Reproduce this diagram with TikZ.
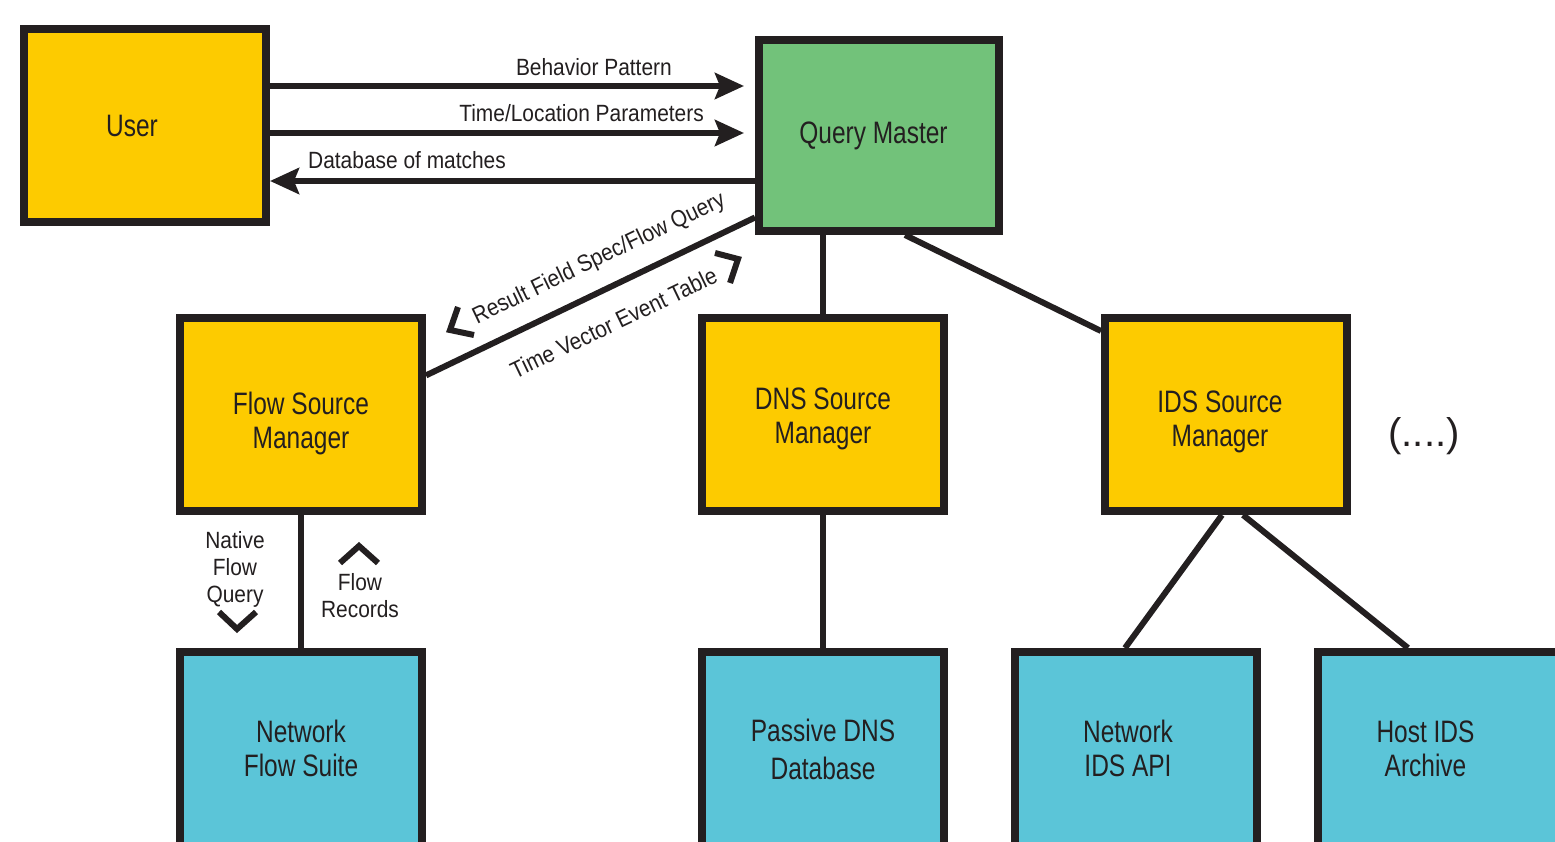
\documentclass[tikz,border=0pt]{standalone}
\usepackage{fontspec}
\setmainfont{Liberation Sans}[FakeStretch=0.79]
\newfontfamily\lblfamily{Liberation Sans}[FakeStretch=0.89]
\newfontfamily\plainfamily{Liberation Sans}
\usetikzlibrary{arrows.meta,calc}
\definecolor{ylw}{HTML}{FDCB00}
\definecolor{grn}{HTML}{72C27A}
\definecolor{cyn}{HTML}{5BC5D8}
\definecolor{ink}{HTML}{231F20}
\newcommand\boxfont{\fontsize{31}{34}\selectfont}
\newcommand\lblfont{\lblfamily\fontsize{23.5}{27}\selectfont}
\newcommand\tall[1]{\rule{0pt}{#1}}
\newcommand\deep[1]{\rule[-#1]{0pt}{#1}}
\begin{document}
\begin{tikzpicture}[x=1pt,y=-1pt,
  box/.style={draw=ink,line width=8pt,minimum width=242pt,minimum height=193pt,
    align=center,font=\boxfont,text=ink,inner sep=0pt},
  conn/.style={draw=ink,line width=6pt},
  arr/.style={conn,-{Stealth[length=29pt,width=26pt,inset=5pt]}},
  lbl/.style={font=\lblfont,text=ink,inner sep=0pt},
  chev/.style={draw=ink,line width=6pt,miter limit=10}]
\useasboundingbox (0,0) rectangle (1555,842);
\clip (0,0) rectangle (1555,842);
\fill[white] (0,0) rectangle (1555,842);
% boxes
\node[box,fill=ylw] (user) at (145,126) {User\hspace*{26pt}};
\node[box,fill=grn,minimum width=240pt,minimum height=191pt] (qm) at (879,135.5) {Query Master\hspace*{11pt}};
\node[box,fill=ylw] (fsm) at (301,414.5) {\tall{40pt}Flow Source\\Manager};
\node[box,fill=ylw] (dns) at (823,414.5) {\tall{30pt}DNS Source\\Manager};
\node[box,fill=ylw] (ids) at (1226,414.5) {\tall{36pt}IDS Source\hspace*{12pt}\\Manager\hspace*{12pt}};
\node[box,fill=cyn,minimum height=200pt] (nfs) at (301,752) {Network\\Flow Suite\deep{8pt}};
\node[box,fill=cyn,minimum height=200pt,font=\fontsize{31}{38}\selectfont] (pdns) at (823,752) {Passive DNS\\Database\deep{6pt}};
\node[box,fill=cyn,minimum height=200pt] (nids) at (1136,752) {Network\hspace*{16pt}\\IDS API\hspace*{16pt}\deep{7pt}};
\node[box,fill=cyn,minimum height=200pt] (hids) at (1439,752) {Host IDS\hspace*{27pt}\\Archive\hspace*{27pt}\deep{6pt}};
% user <-> query master
\draw[arr,shorten >=11pt] (user.east |- 0,86) -- (qm.west |- 0,86);
\draw[arr,shorten >=11pt] (user.east |- 0,133) -- (qm.west |- 0,133);
\draw[arr] (qm.west |- 0,181) -- (user.east |- 0,181);
\node[lbl,anchor=base east] (lbp) at (672,76) {Behavior Pattern};
\node[lbl,anchor=base east] (ltl) at (704,122) {Time/Location Parameters};
\node[lbl,anchor=base west] (ldb) at (308,169) {Database of matches};
% diagonal flow link
\coordinate (da) at (fsm.east |- 0,375.4);
\coordinate (db) at (qm.west |- 0,217.5);
\draw[conn] (da) -- (db);
\coordinate (m1) at ($(da)!0.566!(db)$);
\coordinate (m2) at ($(da)!0.526!(db)$);
\node[lbl,rotate=25.6,anchor=base] (lrf) at ($(m1)!24pt!90:(db)$) {Result Field Spec/Flow Query};
\node[lbl,rotate=25.6,anchor=base] (ltv) at ($(m2)!42pt!-90:(db)$) {Time Vector Event Table};
\draw[chev] (458,307) -- (450,330) -- (474,335);
\draw[chev] (715,253) -- (738,259) -- (730,283);
% tree links
\draw[conn] (dns.north |- qm.south) -- (dns.north);
\draw[conn] (qm.south -| 905,0) -- (ids.west |- 0,331);
\draw[conn] (fsm.south) -- (nfs.north);
\draw[conn] (dns.south) -- (pdns.north);
\draw[conn] (ids.south -| 1222,0) -- (nids.north -| 1125,0);
\draw[conn] (ids.south -| 1243,0) -- (hids.north -| 1408,0);
% flow labels
\node[lbl,align=center] (lnfq) at (235,569) {Native\\Flow\\Query};
\node[lbl,align=center] (lfr) at (360,596) {Flow\\Records};
\draw[chev] (219,612) -- (237,629) -- (256,612);
\draw[chev] (340,563) -- (359,546) -- (378,563);
\node[lbl,font=\plainfamily\fontsize{40}{46}\selectfont] (dots) at (1424,436) {(....)};
\end{tikzpicture}
\end{document}
